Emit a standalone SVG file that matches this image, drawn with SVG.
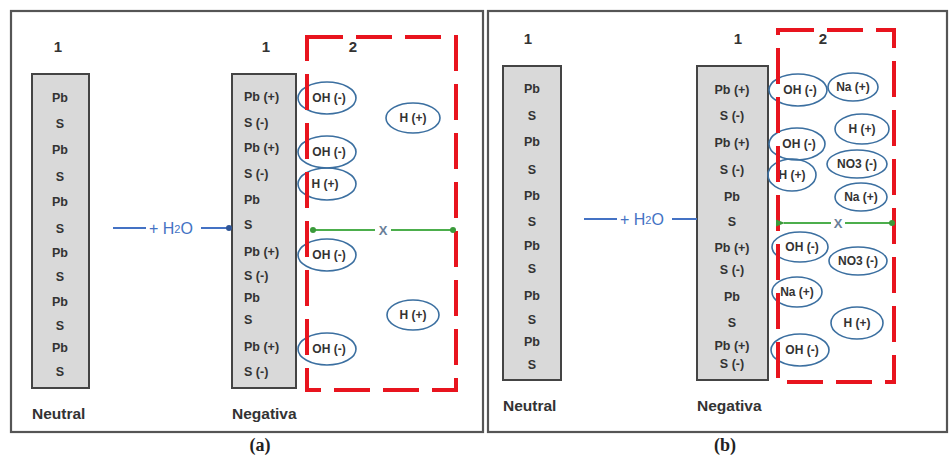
<svg xmlns="http://www.w3.org/2000/svg" width="951" height="455" viewBox="0 0 951 455">
<defs>
<style>
.frame{fill:none;stroke:#555;stroke-width:2.2}
.col{fill:#d9d9d9;stroke:#444;stroke-width:2}
.t{font-family:"Liberation Sans",Arial,sans-serif;font-weight:bold;font-size:12.5px;fill:#333;dominant-baseline:central}
.m{text-anchor:middle}
.lbl{font-family:"Liberation Sans",Arial,sans-serif;font-weight:bold;font-size:15.5px;fill:#333;dominant-baseline:central}
.num{font-family:"Liberation Sans",Arial,sans-serif;font-weight:bold;font-size:15px;fill:#333;text-anchor:middle;dominant-baseline:central}
.cap{font-family:"Liberation Serif","Times New Roman",serif;font-weight:bold;font-size:18px;fill:#222;text-anchor:middle}
.zone{fill:none;stroke:#e8141e;stroke-width:4;stroke-dasharray:36 13}
.ion{fill:none;stroke:#3b6fa0;stroke-width:1.6}
.it{font-family:"Liberation Sans",Arial,sans-serif;font-weight:bold;font-size:12px;fill:#333;text-anchor:middle;dominant-baseline:central}
.h2o{font-family:"Liberation Sans",Arial,sans-serif;font-size:16px;fill:#4472c4;dominant-baseline:central}
.bl{stroke:#4472c4;stroke-width:2;fill:none}
.gl{stroke:#4cae4c;stroke-width:2.2;fill:none}
.x{font-family:"Liberation Sans",Arial,sans-serif;font-weight:bold;font-size:13px;fill:#6a7f99;text-anchor:middle;dominant-baseline:central}
</style>
<marker id="gdot" markerWidth="8" markerHeight="8" refX="4" refY="4" markerUnits="userSpaceOnUse"><circle cx="4" cy="4" r="3" fill="#3a9a3a"/></marker>
<marker id="garr" markerWidth="10" markerHeight="10" refX="1" refY="5" orient="auto-start-reverse" markerUnits="userSpaceOnUse"><path d="M0,5 L9,1.5 L9,8.5 Z" fill="#3a9a3a"/></marker>
<marker id="bdot" markerWidth="8" markerHeight="8" refX="4" refY="4" markerUnits="userSpaceOnUse"><circle cx="4" cy="4" r="3" fill="#2f5597"/></marker>
</defs>

<g id="panel-a">
<rect class="frame" x="11" y="11" width="472" height="421"/>
<text class="cap" x="260" y="451">(a)</text>
</g>
<g id="panel-b">
<rect class="frame" x="488" y="11" width="459" height="421"/>
<text class="cap" x="725" y="451">(b)</text>
</g>

<g id="a-neutral">
<text class="num" x="58" y="46">1</text>
<rect class="col" x="32" y="74" width="57" height="314"/>
<text class="t m" x="60" y="98">Pb</text>
<text class="t m" x="60" y="124">S</text>
<text class="t m" x="60" y="150">Pb</text>
<text class="t m" x="60" y="177">S</text>
<text class="t m" x="60" y="202">Pb</text>
<text class="t m" x="60" y="229">S</text>
<text class="t m" x="60" y="253">Pb</text>
<text class="t m" x="60" y="277">S</text>
<text class="t m" x="60" y="302">Pb</text>
<text class="t m" x="60" y="326">S</text>
<text class="t m" x="60" y="348">Pb</text>
<text class="t m" x="60" y="372">S</text>
<text class="lbl" x="32" y="413">Neutral</text>
</g>

<g id="a-negativa">
<text class="num" x="266" y="46">1</text>
<rect class="col" x="232" y="74" width="64" height="314"/>
<text class="t" x="244" y="97">Pb (+)</text>
<text class="t" x="244" y="123">S (-)</text>
<text class="t" x="244" y="148">Pb (+)</text>
<text class="t" x="244" y="174">S (-)</text>
<text class="t" x="244" y="200">Pb</text>
<text class="t" x="244" y="225">S</text>
<text class="t" x="244" y="252">Pb (+)</text>
<text class="t" x="244" y="276">S (-)</text>
<text class="t" x="244" y="298">Pb</text>
<text class="t" x="244" y="320">S</text>
<text class="t" x="244" y="347">Pb (+)</text>
<text class="t" x="244" y="372">S (-)</text>
<text class="lbl" x="232" y="413">Negativa</text>
</g>

<g id="a-ions">
<ellipse class="ion" cx="327" cy="98" rx="29" ry="16"/><text class="it" x="329" y="98">OH (-)</text>
<ellipse class="ion" cx="413" cy="118" rx="27" ry="15"/><text class="it" x="413" y="118">H (+)</text>
<ellipse class="ion" cx="327" cy="152" rx="29" ry="16"/><text class="it" x="329" y="152">OH (-)</text>
<ellipse class="ion" cx="327" cy="184" rx="29" ry="16"/><text class="it" x="325" y="184">H (+)</text>
<ellipse class="ion" cx="327" cy="255" rx="29" ry="16"/><text class="it" x="329" y="255">OH (-)</text>
<ellipse class="ion" cx="413" cy="315" rx="26" ry="15"/><text class="it" x="413" y="315">H (+)</text>
<ellipse class="ion" cx="327" cy="349" rx="29" ry="16"/><text class="it" x="329" y="349">OH (-)</text>
</g>

<g id="a-zone">
<rect class="zone" x="307" y="37" width="149" height="353"/>
<text class="num" x="353" y="46">2</text>
</g>

<g id="b-neutral">
<text class="num" x="528" y="38">1</text>
<rect class="col" x="503" y="66" width="58" height="314"/>
<text class="t m" x="532" y="89">Pb</text>
<text class="t m" x="532" y="116">S</text>
<text class="t m" x="532" y="142">Pb</text>
<text class="t m" x="532" y="170">S</text>
<text class="t m" x="532" y="196">Pb</text>
<text class="t m" x="532" y="222">S</text>
<text class="t m" x="532" y="246">Pb</text>
<text class="t m" x="532" y="269">S</text>
<text class="t m" x="532" y="296">Pb</text>
<text class="t m" x="532" y="320">S</text>
<text class="t m" x="532" y="342">Pb</text>
<text class="t m" x="532" y="365">S</text>
<text class="lbl" x="503" y="405">Neutral</text>
</g>

<g id="b-negativa">
<text class="num" x="738" y="38">1</text>
<rect class="col" x="697" y="66" width="71" height="314"/>
<text class="t m" x="732" y="90">Pb (+)</text>
<text class="t m" x="732" y="116">S (-)</text>
<text class="t m" x="732" y="143">Pb (+)</text>
<text class="t m" x="732" y="170">S (-)</text>
<text class="t m" x="732" y="197">Pb</text>
<text class="t m" x="732" y="222">S</text>
<text class="t m" x="732" y="248">Pb (+)</text>
<text class="t m" x="732" y="270">S (-)</text>
<text class="t m" x="732" y="297">Pb</text>
<text class="t m" x="732" y="323">S</text>
<text class="t m" x="732" y="346">Pb (+)</text>
<text class="t m" x="732" y="364">S (-)</text>
<text class="lbl" x="697" y="405">Negativa</text>
</g>

<g id="b-ions">
<ellipse class="ion" cx="798" cy="90" rx="29" ry="16"/><text class="it" x="800" y="90">OH (-)</text>
<ellipse class="ion" cx="853" cy="87" rx="25" ry="14"/><text class="it" x="853" y="87">Na (+)</text>
<ellipse class="ion" cx="862" cy="129" rx="27" ry="15"/><text class="it" x="862" y="129">H (+)</text>
<ellipse class="ion" cx="797" cy="144" rx="28" ry="16"/><text class="it" x="799" y="144">OH (-)</text>
<ellipse class="ion" cx="857" cy="164" rx="30" ry="14"/><text class="it" x="857" y="164">NO3 (-)</text>
<ellipse class="ion" cx="792" cy="175" rx="24" ry="16"/><text class="it" x="792" y="175">H (+)</text>
<ellipse class="ion" cx="861" cy="197" rx="26" ry="14"/><text class="it" x="861" y="197">Na (+)</text>
<ellipse class="ion" cx="800" cy="247" rx="28" ry="15"/><text class="it" x="802" y="247">OH (-)</text>
<ellipse class="ion" cx="858" cy="261" rx="29" ry="14"/><text class="it" x="858" y="261">NO3 (-)</text>
<ellipse class="ion" cx="797" cy="292" rx="25" ry="15"/><text class="it" x="797" y="292">Na (+)</text>
<ellipse class="ion" cx="857" cy="323" rx="26" ry="16"/><text class="it" x="857" y="323">H (+)</text>
<ellipse class="ion" cx="800" cy="350" rx="29" ry="16"/><text class="it" x="802" y="350">OH (-)</text>
</g>

<g id="b-zone">
<rect class="zone" x="778" y="30" width="116" height="352"/>
<text class="num" x="823" y="38">2</text>
</g>

<g id="connectors">
<line class="bl" x1="113" y1="228" x2="146" y2="228"/>
<text class="h2o" x="149" y="228">+ H<tspan font-size="11" dy="1">2</tspan><tspan dy="-1">O</tspan></text>
<line class="bl" x1="201" y1="228" x2="229" y2="228" marker-end="url(#bdot)"/>
<line class="gl" x1="313" y1="230" x2="375" y2="230" marker-start="url(#gdot)"/>
<line class="gl" x1="391" y1="230" x2="453" y2="230" marker-end="url(#gdot)"/>
<text class="x" x="383" y="230">X</text>

<line class="bl" x1="584" y1="219" x2="617" y2="219"/>
<text class="h2o" x="620" y="219">+ H<tspan font-size="11" dy="1">2</tspan><tspan dy="-1">O</tspan></text>
<line class="bl" x1="672" y1="219" x2="697" y2="219"/>
<line class="gl" x1="784" y1="223" x2="831" y2="223" marker-start="url(#garr)"/>
<line class="gl" x1="845" y1="223" x2="892" y2="223" marker-end="url(#gdot)"/>
<text class="x" x="838" y="223">X</text>
</g>
</svg>
